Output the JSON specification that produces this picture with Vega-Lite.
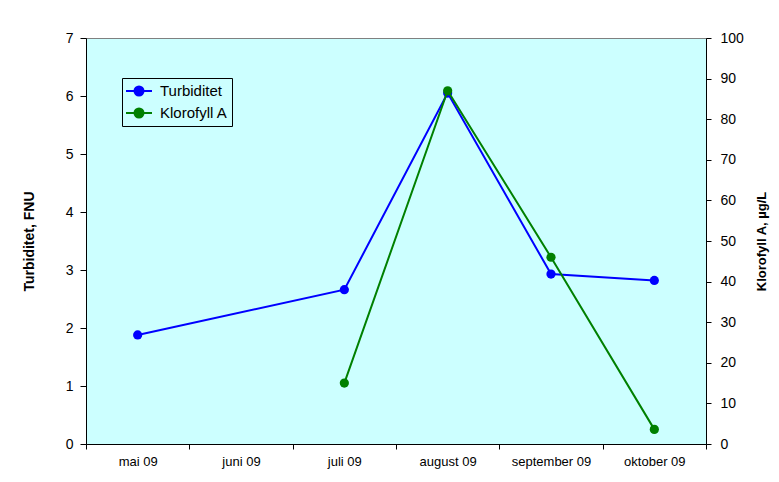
{
  "$schema": "https://vega.github.io/schema/vega-lite/v6.json",
  "width": 620,
  "height": 406,
  "autosize": {"type": "none"},
  "padding": {"left": 86, "top": 38, "right": 73, "bottom": 38},
  "background": "white",
  "config": {
    "font": "Liberation Sans",
    "view": {"fill": "#CCFFFF", "stroke": "#808080", "strokeWidth": 1},
    "axis": {
      "grid": false,
      "domainColor": "black",
      "domainWidth": 1,
      "tickColor": "black",
      "labelColor": "black",
      "titleColor": "black",
      "labelFont": "Liberation Sans",
      "titleFont": "Liberation Sans"
    }
  },
  "data": {
    "values": [
      {"maaned": "mai 09", "serie": "Turbiditet", "verdi": 1.88},
      {"maaned": "juli 09", "serie": "Turbiditet", "verdi": 2.66},
      {"maaned": "august 09", "serie": "Turbiditet", "verdi": 6.05},
      {"maaned": "september 09", "serie": "Turbiditet", "verdi": 2.93},
      {"maaned": "oktober 09", "serie": "Turbiditet", "verdi": 2.82},
      {"maaned": "juli 09", "serie": "Klorofyll A", "verdi": 15},
      {"maaned": "august 09", "serie": "Klorofyll A", "verdi": 87},
      {"maaned": "september 09", "serie": "Klorofyll A", "verdi": 46},
      {"maaned": "oktober 09", "serie": "Klorofyll A", "verdi": 3.6}
    ]
  },
  "encoding": {
    "x": {
      "field": "maaned",
      "type": "ordinal",
      "sort": null,
      "bandPosition": 0.5,
      "scale": {
        "type": "band",
        "paddingInner": 0,
        "paddingOuter": 0,
        "domain": ["mai 09", "juni 09", "juli 09", "august 09", "september 09", "oktober 09"]
      },
      "axis": {
        "title": null,
        "labelAngle": 0,
        "labelFontSize": 13,
        "tickSize": 5,
        "labelPadding": 6,
        "tickBand": "extent"
      }
    },
    "color": {
      "field": "serie",
      "type": "nominal",
      "scale": {"domain": ["Turbiditet", "Klorofyll A"], "range": ["#0000FF", "#008000"]},
      "legend": {
        "title": null,
        "orient": "none",
        "legendX": 36,
        "legendY": 40,
        "strokeColor": "black",
        "padding": 4,
        "symbolType": "M-1.625,0H1.625M-0.5625,0A0.5625,0.5625,0,1,0,0.5625,0A0.5625,0.5625,0,1,0,-0.5625,0Z",
        "symbolSize": 256,
        "symbolStrokeWidth": 2,
        "symbolOffset": 4,
        "labelOffset": 12,
        "rowPadding": 4,
        "labelFontSize": 15,
        "labelFont": "Liberation Sans",
        "labelColor": "black",
        "symbolOpacity": 1,
        "encode": {
          "symbols": {
            "update": {
              "fill": {"scale": "color", "field": "value"},
              "stroke": {"scale": "color", "field": "value"},
              "opacity": {"value": 1}
            }
          }
        }
      }
    }
  },
  "layer": [
    {
      "transform": [{"filter": "datum.serie === 'Turbiditet'"}],
      "encoding": {
        "y": {
          "field": "verdi",
          "type": "quantitative",
          "scale": {"domain": [0, 7], "nice": false, "zero": true},
          "axis": {
            "orient": "left",
            "title": "Turbiditet, FNU",
            "titleFontSize": 14,
            "titleFontWeight": "bold",
            "titlePadding": 29,
            "labelFontSize": 14,
            "tickSize": 6,
            "labelPadding": 7,
            "values": [0, 1, 2, 3, 4, 5, 6, 7]
          }
        }
      },
      "layer": [
        {"mark": {"type": "line", "strokeWidth": 2}},
        {"mark": {"type": "point", "filled": true, "size": 85, "opacity": 1}}
      ]
    },
    {
      "transform": [{"filter": "datum.serie === 'Klorofyll A'"}],
      "encoding": {
        "y": {
          "field": "verdi",
          "type": "quantitative",
          "scale": {"domain": [0, 100], "nice": false, "zero": true},
          "axis": {
            "orient": "right",
            "title": "Klorofyll A, µg/L",
            "titleAngle": 270,
            "titleBaseline": "top",
            "titleFontSize": 13,
            "titleFontWeight": "bold",
            "titlePadding": 12,
            "labelFontSize": 14,
            "tickSize": 5,
            "labelPadding": 9,
            "values": [0, 10, 20, 30, 40, 50, 60, 70, 80, 90, 100]
          }
        }
      },
      "layer": [
        {"mark": {"type": "line", "strokeWidth": 2}},
        {"mark": {"type": "point", "filled": true, "size": 85, "opacity": 1}}
      ]
    }
  ],
  "resolve": {"scale": {"y": "independent"}}
}
